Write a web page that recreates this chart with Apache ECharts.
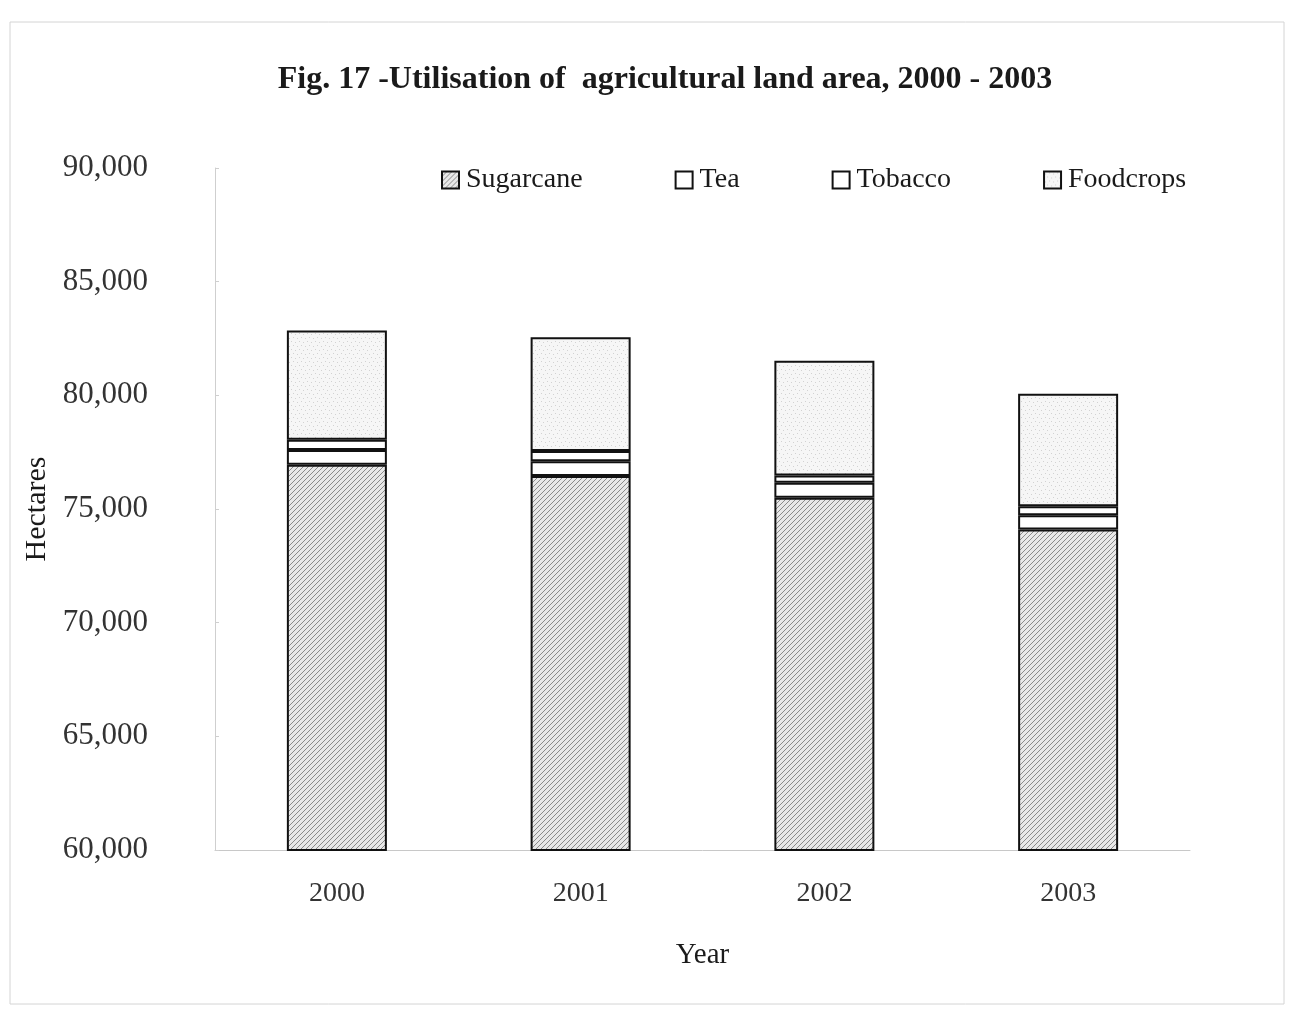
<!DOCTYPE html>
<html>
<head>
<meta charset="utf-8">
<title>Fig. 17</title>
<script src="https://cdn.jsdelivr.net/npm/echarts@6/dist/echarts.min.js"></script>
<style>
html, body { margin: 0; padding: 0; background: #fff; }
#main { width: 1294px; height: 1010px; }
</style>
</head>
<body>
<div id="main"></div>
<script>
// years on x axis
var years = ['2000', '2001', '2002', '2003'];
// hectares
var sugarcane = [76950, 76450, 75500, 74100];
var tea = [650, 650, 650, 620];
var tobacco = [450, 450, 320, 400];
var foodcrops = [4800, 5000, 5050, 4950];
var yTicks = [60000, 65000, 70000, 75000, 80000, 85000, 90000];

(function() {
	var font = '"Liberation Serif", "DejaVu Serif", serif';
	var ink = '#1a1a1a';

	//斜线纹理 sugarcane
	function hatch() {
		var c = document.createElement('canvas');
		c.width = 5;
		c.height = 5;
		var ctx = c.getContext('2d');
		ctx.fillStyle = '#e8e8e8';
		ctx.fillRect(0, 0, 5, 5);
		ctx.strokeStyle = '#8a8a8a';
		ctx.lineWidth = 1;
		ctx.beginPath();
		ctx.moveTo(0, 5);
		ctx.lineTo(5, 0);
		ctx.moveTo(-1, 1);
		ctx.lineTo(1, -1);
		ctx.moveTo(4, 6);
		ctx.lineTo(6, 4);
		ctx.stroke();
		return c;
	}
	//点状纹理 foodcrops
	function dots() {
		var c = document.createElement('canvas');
		c.width = 8;
		c.height = 8;
		var ctx = c.getContext('2d');
		ctx.fillStyle = '#f6f6f6';
		ctx.fillRect(0, 0, 8, 8);
		ctx.fillStyle = '#d2d2d2';
		ctx.fillRect(1, 2, 1, 1);
		ctx.fillRect(5, 1, 1, 1);
		ctx.fillRect(3, 5, 1, 1);
		ctx.fillRect(7, 6, 1, 1);
		return c;
	}

	var dom = document.getElementById('main');
	var myChart = echarts.init(dom, null, { renderer: 'canvas' });

	function seg(name, data, fill) {
		return {
			name: name,
			type: 'bar',
			stack: 'land',
			barWidth: 100,
			clip: true,
			itemStyle: {
				color: fill,
				borderColor: '#111',
				borderWidth: 2
			},
			emphasis: { disabled: true },
			data: data
		};
	}

	var option = {
		backgroundColor: '#fff',
		animation: false,
		title: {
			text: 'Fig. 17 -Utilisation of  agricultural land area, 2000 - 2003',
			left: 660,
			textAlign: 'center',
			top: 59,
			textStyle: {
				fontFamily: font,
				fontWeight: 'bold',
				fontSize: 32,
				color: ink
			}
		},
		legend: {
			left: 436,
			top: 161,
			itemGap: 92,
			itemWidth: 17,
			itemHeight: 17,
			icon: 'rect',
			textStyle: {
				fontFamily: font,
				fontSize: 28,
				color: ink,
				padding: [0, 0, 0, 2]
			},
			data: ['Sugarcane', 'Tea', 'Tobacco', 'Foodcrops']
		},
		grid: {
			left: 215,
			right: 104,
			top: 168,
			bottom: 160,
			containLabel: false
		},
		xAxis: {
			type: 'category',
			data: years,
			name: 'Year',
			nameLocation: 'middle',
			nameGap: 91,
			nameTextStyle: { fontFamily: font, fontSize: 29, color: ink },
			axisLine: { lineStyle: { color: '#c8c8c8', width: 1 } },
			axisTick: { show: false },
			axisLabel: {
				margin: 30,
				fontFamily: font,
				fontSize: 28,
				color: '#333'
			}
		},
		yAxis: {
			type: 'value',
			min: yTicks[0],
			max: yTicks[yTicks.length - 1],
			interval: yTicks[1] - yTicks[0],
			name: 'Hectares',
			nameLocation: 'middle',
			nameGap: 156,
			nameTextStyle: { fontFamily: font, fontSize: 30, color: ink },
			axisLine: { show: true, lineStyle: { color: '#cfcfcf', width: 1 } },
			axisTick: { show: true, length: 4, inside: true, lineStyle: { color: '#cfcfcf' } },
			splitLine: { show: false },
			axisLabel: {
				margin: 67,
				fontFamily: font,
				fontSize: 31,
				color: '#333',
				formatter: function(v) {
					return v.toLocaleString('en-US');
				}
			}
		},
		graphic: [{
			type: 'rect',
			shape: { x: 10, y: 22, width: 1274, height: 982 },
			style: { fill: 'none', stroke: '#d4d4d4', lineWidth: 1 },
			silent: true
		}],
		series: [
			seg('Sugarcane', sugarcane, { image: hatch(), repeat: 'repeat' }),
			seg('Tea', tea, '#ffffff'),
			seg('Tobacco', tobacco, '#ffffff'),
			seg('Foodcrops', foodcrops, { image: dots(), repeat: 'repeat' })
		]
	};

	if(option && typeof option === 'object') {
		myChart.setOption(option, true);
	}
})();
</script>
</body>
</html>
